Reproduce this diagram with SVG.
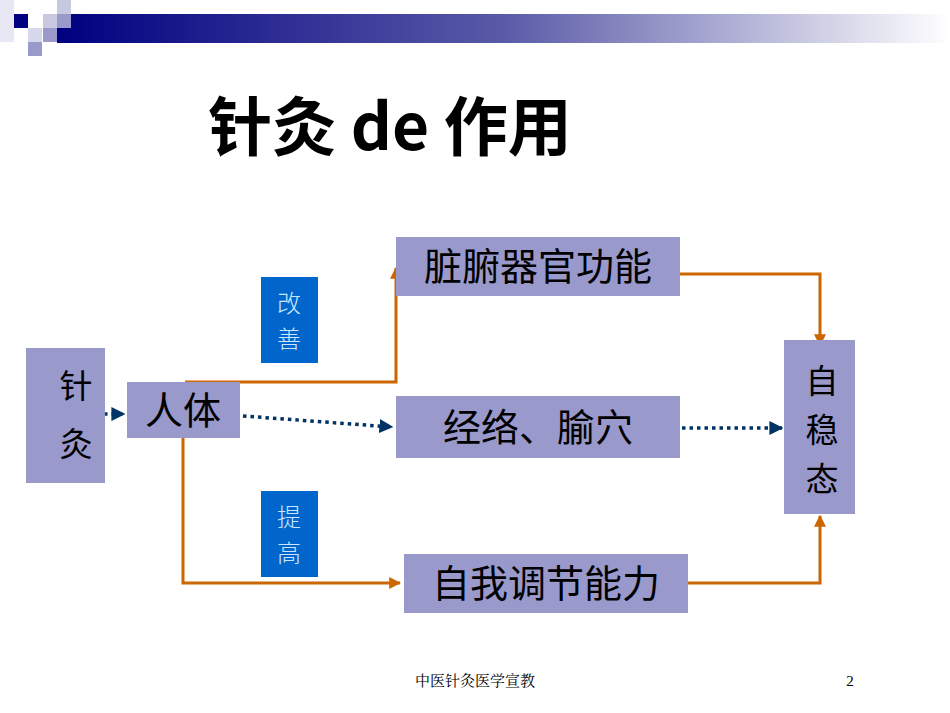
<svg xmlns="http://www.w3.org/2000/svg" width="950" height="713" viewBox="0 0 950 713">
<defs>
<linearGradient id="bar" x1="0" x2="1" y1="0" y2="0"><stop offset="0" stop-color="#000080"/><stop offset="0.5" stop-color="#5a5aa8"/><stop offset="1" stop-color="#ffffff"/></linearGradient>
<marker id="ao" viewBox="0 0 10 10" refX="9" refY="5" markerWidth="4" markerHeight="4" orient="auto"><path d="M0,0L10,5L0,10z" fill="#cc6600"/></marker>
<marker id="ab" viewBox="0 0 10 10" refX="9" refY="5" markerWidth="4" markerHeight="4" orient="auto"><path d="M0,0L10,5L0,10z" fill="#003366"/></marker>
<style>
.n{fill:#9999cc}
.t{font-family:"Noto Sans CJK SC",sans-serif;font-size:38px;fill:#000;text-anchor:middle}
.v{font-family:"Noto Sans CJK SC",sans-serif;font-size:33px;fill:#000;text-anchor:middle}
.b{fill:#0066cc}
.bt{font-family:"Noto Sans CJK SC",sans-serif;font-size:24px;fill:#cce6ff;text-anchor:middle;font-weight:300}
.o{fill:none;stroke:#cc6600;stroke-width:3}
.d{fill:none;stroke:#003366;stroke-width:3.5;stroke-dasharray:3.5 4}
</style>
</defs>
<rect width="950" height="713" fill="#fff"/>
<rect x="57" y="14" width="893" height="29" fill="url(#bar)"/>
<rect x="14" y="14" width="14" height="14" fill="#000080"/>
<rect x="0" y="0" width="14" height="42" fill="#e8e8f4"/>
<rect x="57" y="0" width="14" height="14" fill="#c8c8e0"/>
<rect x="43" y="14" width="14" height="14" fill="#c8c8e0"/>
<rect x="57" y="14" width="14" height="14" fill="#9999cc"/>
<rect x="28" y="28" width="14" height="14" fill="#d8d8ec"/>
<rect x="43" y="28" width="14" height="14" fill="#9999cc"/>
<rect x="28" y="42" width="14" height="14" fill="#9999cc"/>
<text x="390" y="150" font-family="'Noto Sans CJK SC',sans-serif" font-size="64" font-weight="bold" text-anchor="middle">针灸 de 作用</text>
<g id="connectors">
<path class="o" d="M185,382H396V268" marker-end="url(#ao)"/>
<path class="o" d="M183,437V583H400" marker-end="url(#ao)"/>
<path class="o" d="M680,274H820V345" marker-end="url(#ao)"/>
<path class="o" d="M688,583H820V516" marker-end="url(#ao)"/>
<path class="d" d="M104,414H124" marker-end="url(#ab)"/>
<path class="d" d="M243,416L392,427" marker-end="url(#ab)"/>
<path class="d" d="M682,428H782" marker-end="url(#ab)"/>
</g>
<g id="zhenjiu"><rect class="n" x="26" y="348" width="79" height="135"/><text class="v" x="76" y="398">针</text><text class="v" x="76" y="456">灸</text></g>
<g id="renti"><rect class="n" x="127" y="382" width="113" height="56"/><text class="t" x="183" y="424">人体</text></g>
<g id="zangfu"><rect class="n" x="396" y="237" width="284" height="59"/><text class="t" x="538" y="280">脏腑器官功能</text></g>
<g id="jingluo"><rect class="n" x="396" y="396" width="284" height="62"/><text class="t" x="538" y="441">经络、腧穴</text></g>
<g id="ziwo"><rect class="n" x="404" y="554" width="284" height="59"/><text class="t" x="546" y="597">自我调节能力</text></g>
<g id="zuiwentai"><rect class="n" x="784" y="340" width="71" height="174"/><text class="v" x="822" y="393">自</text><text class="v" x="822" y="442">稳</text><text class="v" x="822" y="491">态</text></g>
<g id="gaishan"><rect class="b" x="261" y="277" width="57" height="86"/><text class="bt" x="289" y="312">改</text><text class="bt" x="289" y="348">善</text></g>
<g id="tigao"><rect class="b" x="261" y="491" width="57" height="86"/><text class="bt" x="289" y="526">提</text><text class="bt" x="289" y="562">高</text></g>
<text x="475" y="686" font-family="'Noto Serif CJK SC','Noto Sans CJK SC',serif" font-size="15" text-anchor="middle">中医针灸医学宣教</text>
<text x="850" y="686" font-family="'Liberation Serif',serif" font-size="15" text-anchor="middle">2</text>
</svg>
